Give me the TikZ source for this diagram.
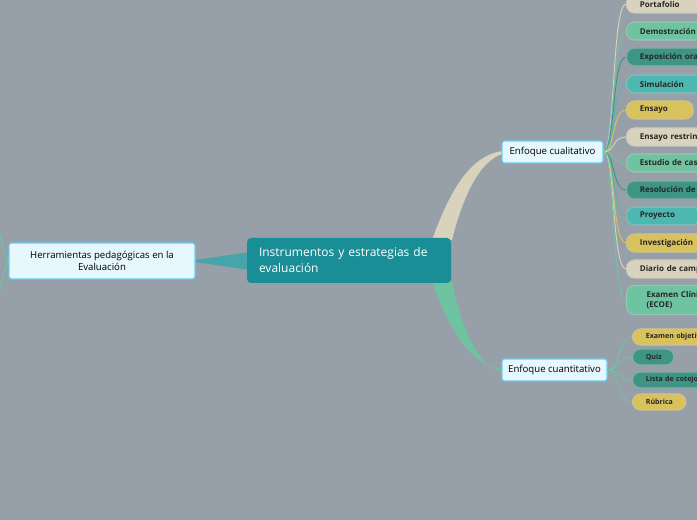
\documentclass[tikz,border=0pt]{standalone}
\usepackage{fontspec}
\setmainfont{Open Sans}
\begin{document}
\begin{tikzpicture}[x=0.75pt,y=-0.75pt,
 leaf/.style={rounded corners=6pt,minimum height=13.5pt,inner xsep=10pt,anchor=west,font=\fontsize{6}{7}\selectfont\bfseries,text=black!85,line width=0.8pt,text width=#1,align=left},
 hub/.style={draw=cyan!60!white,fill=cyan!10!white,line width=0.8pt,rounded corners=2pt,font=\fontsize{7.2}{9}\selectfont,align=center}]
\definecolor{bg}{HTML}{97A0A8}
\definecolor{cbeige}{HTML}{D9D3BD}
\definecolor{cgreen}{HTML}{6EC4A1}
\definecolor{cdark}{HTML}{3E9585}
\definecolor{cteal}{HTML}{4DB7B1}
\definecolor{cyel}{HTML}{D8C25C}
\definecolor{cmain}{HTML}{1A8E96}
\clip (0,0) rectangle (697,520);
\fill[bg] (0,0) rectangle (697,520);
% tapered connectors
\fill[cbeige] (432,240) .. controls (452,185) and (472,156) .. (502,151) -- (502,154) .. controls (478,162) and (462,200) .. (452,240) -- cycle;
\fill[cgreen] (432,282) .. controls (452,335) and (472,365) .. (502,369) -- (502,372) .. controls (478,366) and (462,330) .. (452,282) -- cycle;
\fill[cmain!80!white] (250,252) -- (195,260) -- (195,262) -- (250,270) -- cycle;
\draw[cgreen,line width=0.8pt] (9,261) .. controls (4,255) and (3,245) .. (0,235);
\draw[cgreen,line width=0.8pt] (9,261) .. controls (4,268) and (3,278) .. (0,290);
% main nodes
\node[fill=cmain,rounded corners=3pt,minimum width=204*0.75pt,minimum height=45*0.75pt,text width=180*0.75pt,align=left,text=white,font=\fontsize{9}{12}\selectfont] (main) at (349,260.5) {Instrumentos y estrategias de evaluación};
\node[hub,minimum width=186*0.75pt,minimum height=36*0.75pt] (herr) at (102,261) {Herramientas pedagógicas en la\\Evaluación};
\node[hub,minimum width=101*0.75pt,minimum height=22*0.75pt] (cual) at (552.5,152) {Enfoque cualitativo};
\node[hub,minimum width=105*0.75pt,minimum height=22*0.75pt] (cuan) at (554.5,370) {Enfoque cuantitativo};
% leaves
\foreach \n/\y/\c/\w/\t in {
 l1/4/cbeige/80pt/Portafolio,
 l2/31/cgreen/80pt/Demostración,
 l3/57/cdark/80pt/Exposición oral,
 l4/84/cteal/80pt/Simulación,
 l5/110/cyel/30pt/Ensayo,
 l6/137/cbeige/90pt/Ensayo restringido,
 l7/163/cgreen/90pt/Estudio de casos,
 l8/190/cdark/90pt/Resolución de problemas,
 l9/216/cteal/35pt/Proyecto,
 l10/243/cyel/90pt/Investigación,
 l11/269/cbeige/90pt/Diario de campo}{
 \draw[\c,line width=0.7pt] (cual.east) .. controls (615,152) and (612,\y) .. (626,\y);
 \node[leaf=\w,fill=\c,draw=\c!80!black!60!white] (\n) at (626,\y) {\t};
}
\draw[cgreen,line width=0.7pt] (cual.east) .. controls (615,152) and (612,300) .. (626,300);
\node[leaf=90pt,fill=cgreen,draw=cgreen!80!black!60!white,minimum height=22pt,inner xsep=15pt] (l12) at (626,300) {Examen Clínico\\(ECOE)};
\foreach \n/\y/\c/\w/\t in {
 m1/337/cyel/70pt/Examen objetivo,
 m2/357/cdark/11pt/Quiz,
 m3/380/cdark/70pt/Lista de cotejo,
 m4/402/cyel/20pt/Rúbrica}{
 \draw[cgreen,line width=0.7pt] (cuan.east) .. controls (620,370) and (618,\y) .. (632,\y);
 \node[leaf=\w,fill=\c,draw=\c!80!black!60!white,minimum height=12pt,font=\fontsize{5.3}{6}\selectfont\bfseries] (\n) at (632,\y) {\t};
}
\end{tikzpicture}
\end{document}
